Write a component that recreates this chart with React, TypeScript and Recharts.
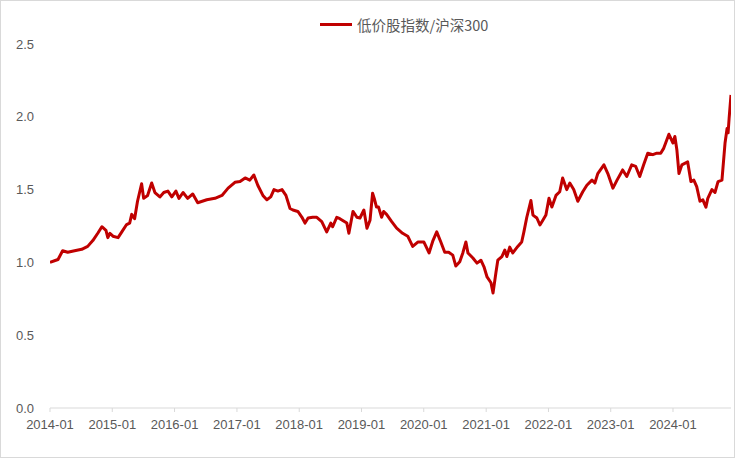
import { LineChart, Line, XAxis, YAxis } from 'recharts';

const dates = [
  '2014-01-01', '2014-02-17', '2014-03-16', '2014-04-15', '2014-05-25', '2014-07-06', '2014-08-10', '2014-09-09',
  '2014-10-08', '2014-11-01', '2014-11-25', '2014-12-06', '2014-12-18', '2015-01-05', '2015-02-04', '2015-02-26',
  '2015-03-26', '2015-04-13', '2015-04-25', '2015-05-12', '2015-05-29', '2015-06-22', '2015-07-04', '2015-07-27',
  '2015-08-20', '2015-09-08', '2015-10-07', '2015-10-30', '2015-11-23', '2015-12-16', '2016-01-09', '2016-01-27',
  '2016-02-20', '2016-03-18', '2016-04-17', '2016-05-16', '2016-07-08', '2016-08-25', '2016-10-05', '2016-11-10',
  '2016-12-20', '2017-01-19', '2017-02-18', '2017-03-17', '2017-04-10', '2017-05-03', '2017-06-02', '2017-06-25',
  '2017-07-18', '2017-08-06', '2017-08-29', '2017-09-22', '2017-10-15', '2017-11-08', '2017-11-25', '2017-12-24',
  '2018-01-17', '2018-02-04', '2018-02-22', '2018-03-21', '2018-04-14', '2018-05-13', '2018-06-11', '2018-07-05',
  '2018-07-16', '2018-08-09', '2018-08-27', '2018-10-07', '2018-10-19', '2018-11-12', '2018-12-05', '2018-12-23',
  '2019-01-15', '2019-02-02', '2019-02-20', '2019-03-07', '2019-03-19', '2019-03-30', '2019-04-11', '2019-04-29',
  '2019-05-11', '2019-05-28', '2019-06-27', '2019-07-26', '2019-08-30', '2019-09-29', '2019-10-28', '2019-11-27',
  '2020-01-02', '2020-02-01', '2020-02-24', '2020-03-17', '2020-04-10', '2020-05-03', '2020-05-26', '2020-06-19',
  '2020-07-07', '2020-07-30', '2020-08-17', '2020-09-04', '2020-09-16', '2020-10-15', '2020-11-08', '2020-12-01',
  '2020-12-19', '2021-01-06', '2021-01-29', '2021-02-10', '2021-02-27', '2021-03-10', '2021-04-03', '2021-04-20',
  '2021-05-02', '2021-05-19', '2021-06-06', '2021-07-05', '2021-07-28', '2021-08-10', '2021-08-27', '2021-09-20',
  '2021-10-02', '2021-10-25', '2021-11-12', '2021-11-29', '2021-12-17', '2022-01-04', '2022-01-21', '2022-02-14',
  '2022-03-08', '2022-03-25', '2022-04-18', '2022-05-06', '2022-05-29', '2022-06-22', '2022-07-21', '2022-08-14',
  '2022-09-13', '2022-09-30', '2022-10-17', '2022-11-22', '2022-12-15', '2023-01-14', '2023-02-07', '2023-03-12',
  '2023-04-05', '2023-05-04', '2023-05-27', '2023-06-20', '2023-07-13', '2023-08-06', '2023-09-05', '2023-09-28',
  '2023-10-21', '2023-11-08', '2023-12-08', '2024-01-01', '2024-01-12', '2024-01-24', '2024-02-05', '2024-02-22',
  '2024-03-10', '2024-03-27', '2024-04-15', '2024-05-02', '2024-05-19', '2024-06-07', '2024-06-24', '2024-07-12',
  '2024-07-23', '2024-08-16', '2024-09-03', '2024-09-21', '2024-10-14', '2024-11-01', '2024-11-13', '2024-11-19',
  '2024-11-25', '2024-12-06',
];

// 低价股指数/沪深300
const ratio = [
  1.00, 1.02, 1.08, 1.07, 1.08, 1.09, 1.11, 1.15,
  1.20, 1.245, 1.22, 1.17, 1.20, 1.18, 1.17, 1.21,
  1.26, 1.27, 1.33, 1.30, 1.42, 1.54, 1.44, 1.46,
  1.545, 1.48, 1.45, 1.48, 1.49, 1.45, 1.49, 1.44,
  1.48, 1.44, 1.47, 1.41, 1.43, 1.44, 1.46, 1.51,
  1.55, 1.555, 1.58, 1.565, 1.60, 1.53, 1.46, 1.43,
  1.45, 1.50, 1.49, 1.50, 1.46, 1.37, 1.36, 1.35,
  1.31, 1.27, 1.305, 1.31, 1.31, 1.28, 1.21, 1.27,
  1.245, 1.31, 1.30, 1.27, 1.20, 1.35, 1.31, 1.305,
  1.36, 1.235, 1.29, 1.475, 1.43, 1.38, 1.38, 1.31,
  1.35, 1.33, 1.28, 1.235, 1.20, 1.18, 1.11, 1.14,
  1.14, 1.065, 1.15, 1.21, 1.14, 1.07, 1.07, 1.05,
  0.975, 1.005, 1.065, 1.14, 1.065, 1.03, 0.995, 1.015,
  0.97, 0.90, 0.86, 0.79, 0.93, 1.015, 1.04, 1.085,
  1.04, 1.105, 1.065, 1.11, 1.14, 1.21, 1.31, 1.425,
  1.325, 1.305, 1.257, 1.29, 1.325, 1.44, 1.38, 1.46,
  1.485, 1.58, 1.50, 1.545, 1.50, 1.42, 1.485, 1.53,
  1.565, 1.545, 1.61, 1.67, 1.61, 1.51, 1.565, 1.635,
  1.59, 1.67, 1.66, 1.59, 1.67, 1.75, 1.74, 1.75,
  1.75, 1.785, 1.88, 1.82, 1.865, 1.77, 1.61, 1.67,
  1.68, 1.69, 1.555, 1.565, 1.52, 1.42, 1.43, 1.38,
  1.44, 1.50, 1.48, 1.555, 1.565, 1.82, 1.92, 1.89,
  1.99, 2.15,
];

const tickLabels = [
  '2014-01', '2015-01', '2016-01', '2017-01', '2018-01', '2019-01',
  '2020-01', '2021-01', '2022-01', '2023-01', '2024-01',
];

const yTicks = [0, 0.5, 1.0, 1.5, 2.0, 2.5];

const seriesName = '低价股指数/沪深300';

const data = dates.map((d, i) => ({ t: Date.parse(d), v: ratio[i] }));
const xTicks = tickLabels.map((s) => Date.parse(s + '-01'));

const fmtMonth = (t: number) => {
  const d = new Date(t);
  return `${d.getUTCFullYear()}-${String(d.getUTCMonth() + 1).padStart(2, '0')}`;
};

const RED = '#C00000';
const GRAY = '#595959';
const FONT = '"Liberation Sans", Arial, sans-serif';

export default function App() {
  return (
    <div
      style={{
        position: 'absolute',
        left: 0,
        top: 0,
        width: 738,
        height: 459,
        background: '#fff',
      }}
    >
      <div
        style={{
          position: 'absolute',
          left: 0,
          top: 0,
          width: 735,
          height: 458,
          boxSizing: 'border-box',
          border: '1.5px solid #d9d9d9',
        }}
      />
      <div
        style={{
          position: 'absolute',
          left: 320,
          top: 14,
          display: 'flex',
          alignItems: 'center',
          fontFamily: '"Noto Sans CJK SC", sans-serif',
          fontSize: 14.5,
          color: GRAY,
          whiteSpace: 'nowrap',
        }}
      >
        <span style={{ display: 'inline-block', width: 32, height: 3, background: RED, marginRight: 5 }} />
        <span>{seriesName}</span>
      </div>
      <LineChart
        width={738}
        height={459}
        data={data}
        margin={{ top: 44, right: 7, bottom: 21, left: 20 }}
        style={{ fontFamily: FONT }}
      >
        <XAxis
          dataKey="t"
          type="number"
          domain={[data[0].t, data[data.length - 1].t]}
          ticks={xTicks}
          tickFormatter={fmtMonth}
          height={30}
          stroke="#d9d9d9"
          tickSize={4}
          tickMargin={8}
          tick={{ fill: GRAY, fontSize: 13 }}
          allowDataOverflow
        />
        <YAxis
          type="number"
          domain={[0, 2.5]}
          ticks={yTicks}
          tickFormatter={(v: number) => v.toFixed(1)}
          width={30}
          axisLine={false}
          tickLine={false}
          tickMargin={10}
          tick={{ fill: GRAY, fontSize: 13 }}
        />
        <Line
          type="linear"
          dataKey="v"
          name={seriesName}
          stroke={RED}
          strokeWidth={3}
          strokeLinejoin="round"
          dot={false}
          isAnimationActive={false}
        />
      </LineChart>
    </div>
  );
}
